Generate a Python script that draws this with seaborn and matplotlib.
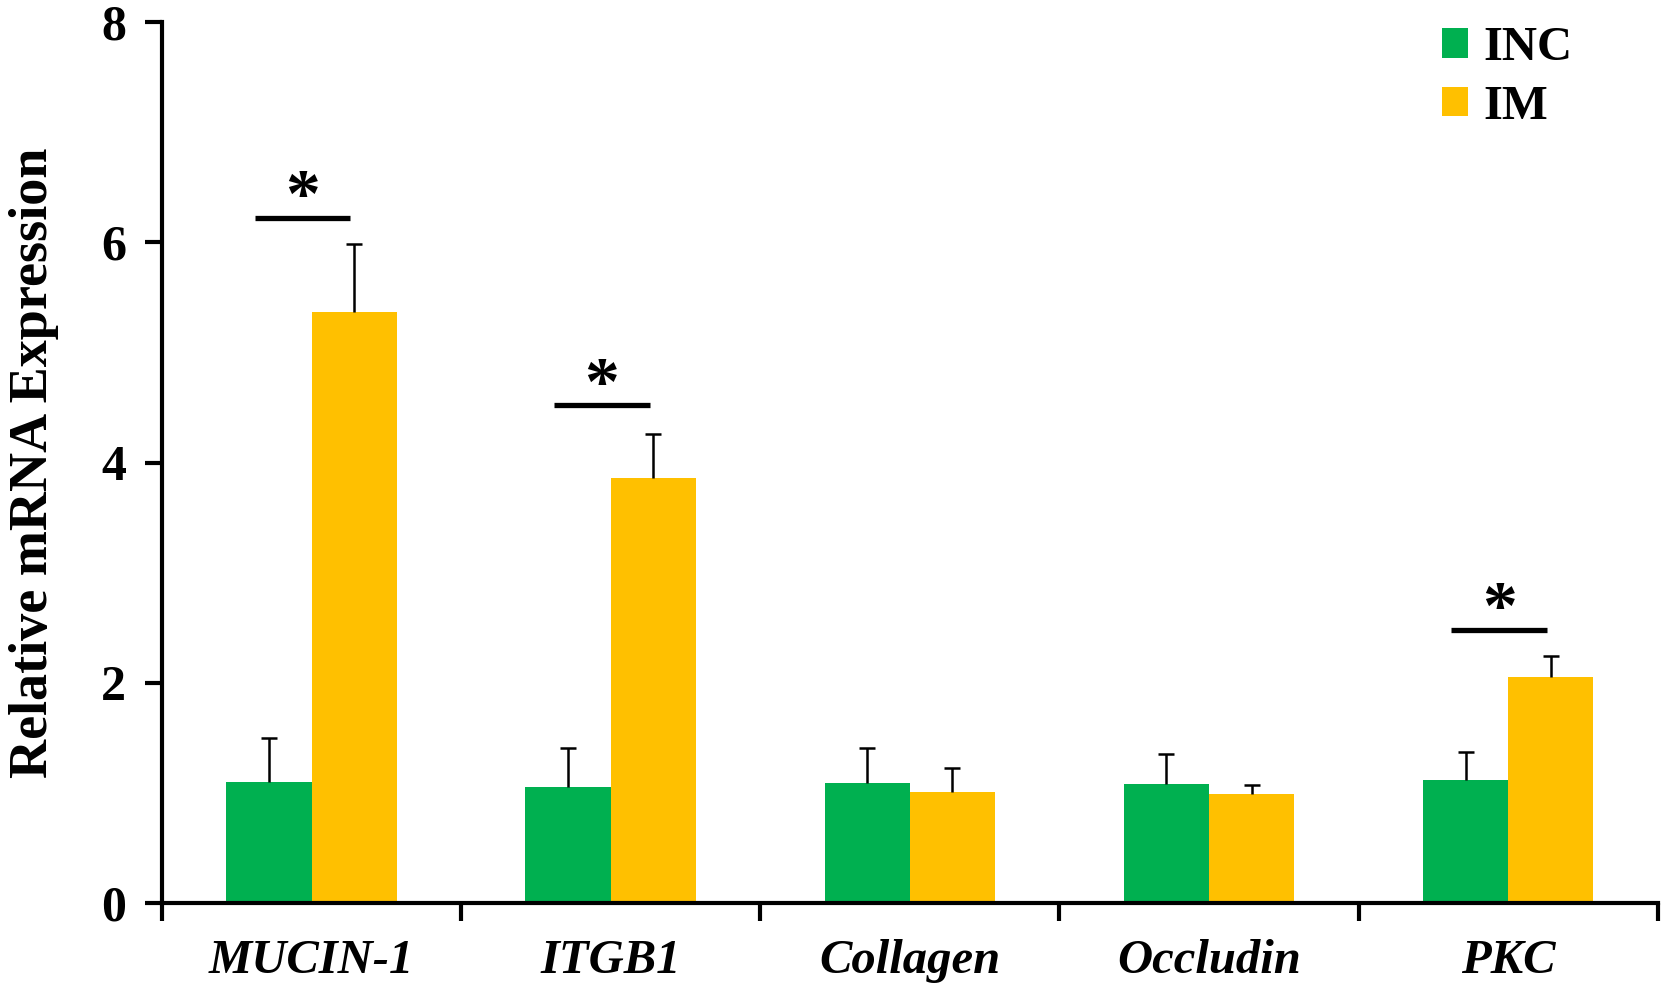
import numpy as np
import pandas as pd
import matplotlib
matplotlib.use("Agg")
import matplotlib.pyplot as plt
import seaborn as sns

genes = ["MUCIN-1", "ITGB1", "Collagen", "Occludin", "PKC"]
groups = ["INC", "IM"]
inc_mean = [1.10, 1.05, 1.09, 1.08, 1.12]
inc_err = [0.40, 0.36, 0.32, 0.27, 0.25]
im_mean = [5.37, 3.86, 1.01, 0.99, 2.05]
im_err = [0.61, 0.40, 0.22, 0.08, 0.19]
sig_genes = ["MUCIN-1", "ITGB1", "PKC"]
sig_level = [6.22, 4.52, 2.48]
yticks = [0, 2, 4, 6, 8]

colors = {"INC": "#00B050", "IM": "#FFC000"}

sns.set_style("white")
plt.rcParams['font.family'] = ['Liberation Serif', 'DejaVu Serif']
plt.rcParams['text.color'] = 'black'
plt.rcParams['xtick.color'] = 'black'
plt.rcParams['ytick.color'] = 'black'
plt.rcParams['axes.labelcolor'] = 'black'

df = pd.DataFrame({
    "gene": genes * 2,
    "group": ["INC"] * len(genes) + ["IM"] * len(genes),
    "value": inc_mean + im_mean,
})

fig = plt.figure(figsize=(16.75, 9.99), dpi=100)
ax = fig.add_axes([0.0967, 0.096, 0.893, 0.882])

sns.barplot(data=df, x="gene", y="value", hue="group", order=genes,
            hue_order=groups, palette=colors, width=0.57, errorbar=None,
            saturation=1, linewidth=0, ax=ax, legend=True)

# error bars (upward only)
errs = {"INC": inc_err, "IM": im_err}
means = {"INC": inc_mean, "IM": im_mean}
for cont, g in zip(ax.containers, groups):
    xs = [p.get_x() + p.get_width() / 2 for p in cont]
    e = np.array(errs[g])
    _, caps, _ = ax.errorbar(xs, means[g], yerr=[np.zeros_like(e), e],
                             fmt="none", ecolor="black", elinewidth=1.8,
                             capsize=5.5, capthick=1.8, zorder=3)
    caps[0].set_visible(False)

# significance markers
for gname, lvl in zip(sig_genes, sig_level):
    i = genes.index(gname)
    ax.plot([i - 0.19, i + 0.13], [lvl, lvl], color="black", lw=3.8,
            solid_capstyle="butt")
    ax.text(i - 0.03, lvl - 0.13, "*", ha="center", va="bottom",
            fontsize=50, fontweight="bold")

ax.set_xlim(-0.5, len(genes) - 0.5)
ax.set_ylim(0, 8)
ax.set_yticks(yticks)
ax.set_yticklabels([str(t) for t in yticks], fontsize=36, fontweight="bold")
ax.set_xticks(range(len(genes)))
ax.set_xticklabels(genes, fontsize=35, fontweight="bold", fontstyle="italic")
ax.set_xticks(np.arange(-0.5, len(genes), 1), minor=True)
ax.tick_params(axis="x", which="major", length=0, pad=26, bottom=True)
ax.tick_params(axis="x", which="minor", length=13, width=3, direction="out",
               bottom=True)
ax.tick_params(axis="y", length=12, width=3, direction="out", pad=14,
               left=True)
ax.set_xlabel("")
ax.set_ylabel("Relative mRNA Expression", fontsize=39, fontweight="bold",
              labelpad=30)

for s in ["top", "right"]:
    ax.spines[s].set_visible(False)
for s in ["left", "bottom"]:
    ax.spines[s].set_linewidth(3)
    ax.spines[s].set_color("black")

leg = ax.legend(loc="upper right", bbox_to_anchor=(0.972, 1.045), frameon=False,
                handlelength=0.55, handleheight=0.55,
                handletextpad=0.3, labelspacing=0.3,
                prop={"weight": "bold", "size": 35})

fig.savefig("out.png", dpi=100)
